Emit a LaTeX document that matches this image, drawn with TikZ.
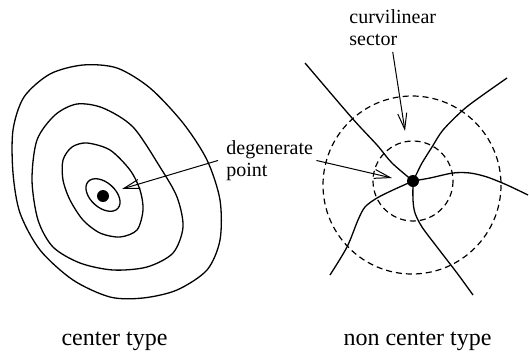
\documentclass[tikz,border=0pt]{standalone}
\usepackage{fontspec}
\setmainfont{Liberation Serif}
\usetikzlibrary{arrows.meta,positioning,calc}

\begin{document}
\begin{tikzpicture}[x=0.5pt,y=-0.5pt,
  contour/.style={line width=0.65pt},
  ring/.style={dash pattern=on 3pt off 2pt,line width=0.6pt},
  blob/.style={circle,fill,inner sep=0pt,minimum size=6pt},
  lbl/.style={font=\fontsize{10}{11}\selectfont,align=left,inner sep=0pt,anchor=north west},
  caption/.style={font=\fontsize{12}{14}\selectfont,inner sep=0pt,anchor=base},
  arr/.style={-{Straight Barb[length=8pt,width=4.5pt]},line width=0.5pt}
]
  \useasboundingbox (0,0) rectangle (529,354);

  % center type: nested closed curves
  \node[blob] (pL) at (103,196) {};
  \draw[contour,rotate around={-42:(103,195)}] (103,195) ellipse[x radius=20,y radius=12.5];
  \draw[contour] plot[smooth cycle] coordinates {(87,143) (72,147) (63,160) (63,180)
    (70,200) (83,220) (100,233) (120,237) (137,230) (143,210) (140,190) (130,170) (110,150)};
  \draw[contour] plot[smooth cycle] coordinates {(77,104) (55,115) (37,140) (32,180)
    (38,220) (53,247) (80,263) (113,270) (147,267) (173,253) (183,227) (177,197)
    (160,167) (133,127) (103,108)};
  \draw[contour] plot[smooth cycle] coordinates {(83,65) (50,74) (24,97) (13,130)
    (13,173) (20,213) (40,250) (73,280) (110,297) (143,298) (177,290) (207,270)
    (220,240) (220,200) (207,160) (183,123) (150,88) (117,68)};

  % non center type: separatrices through the point
  \node[blob] (pR) at (413,181) {};
  \draw[ring] (413,181) circle[radius=40];
  \draw[ring] (412,185) circle[radius=89];
  \draw[contour] plot[smooth] coordinates {(305,63) (352,118) (377,145) (392,163) (pR)};
  \draw[contour] plot[smooth] coordinates {(507,78) (480,97) (463,110) (443,130)
    (432,147) (422,163) (417,173) (pR)};
  \draw[contour] plot[smooth] coordinates {(pR) (430,178) (453,173) (470,173)
    (487,177) (507,185) (528,195)};
  \draw[contour] plot[smooth] coordinates {(pR) (393,190) (377,198) (365,207)
    (358,220) (347,247) (330,275)};
  \draw[contour] plot[smooth] coordinates {(pR) (413,200) (415,213) (422,227)
    (437,247) (457,273) (473,295)};

  % labels
  \node[lbl] (dg) at (226,140) {degenerate\\point};
  \node[lbl] (cs) at (349,9) {curvilinear\\sector};
  \coordinate (tipL) at (122,189);
  \coordinate (tipR) at (392,178);
  \coordinate (tipS) at (405,131);
  \draw[arr] ([xshift=-4pt]dg.west) -- (tipL);
  \draw[arr] ([xshift=1.5pt]dg.east) -- (tipR);
  \draw[arr] ([yshift=-3pt]cs.south) -- (tipS);

  \node[caption] (ct) at (114.5,345) {center type};
  \node[caption] (nct) at (417.5,345) {non center type};
\end{tikzpicture}
\end{document}
